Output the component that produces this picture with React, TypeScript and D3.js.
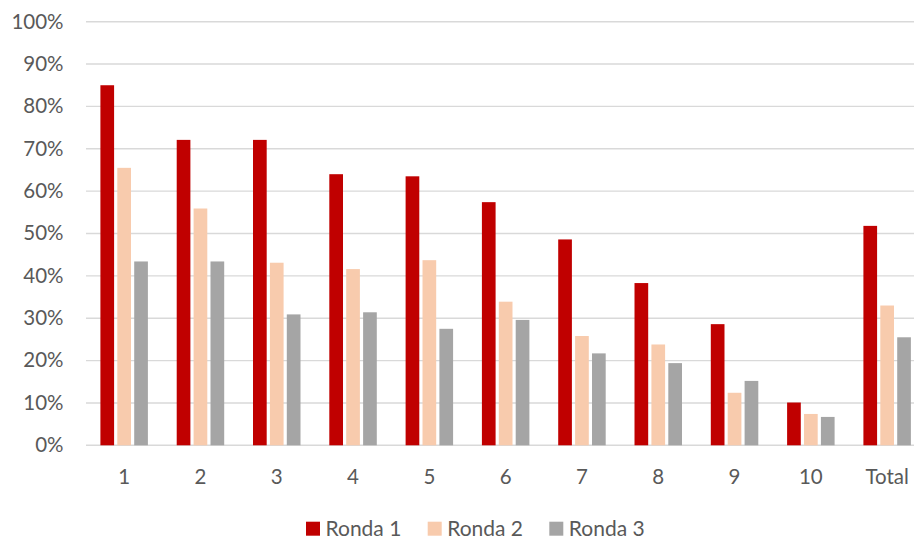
import React from "react";
import * as d3 from "d3";

const categories = ["1", "2", "3", "4", "5", "6", "7", "8", "9", "10", "Total"];
const seriesNames = ["Ronda 1", "Ronda 2", "Ronda 3"];
const ronda1 = [0.85, 0.721, 0.721, 0.64, 0.635, 0.574, 0.486, 0.383, 0.286, 0.101, 0.518];
const ronda2 = [0.655, 0.559, 0.431, 0.416, 0.437, 0.339, 0.258, 0.238, 0.124, 0.074, 0.33];
const ronda3 = [0.434, 0.434, 0.309, 0.314, 0.275, 0.296, 0.217, 0.194, 0.152, 0.067, 0.255];
const yTicks = [0, 0.1, 0.2, 0.3, 0.4, 0.5, 0.6, 0.7, 0.8, 0.9, 1.0];

const colors = ["#C00000", "#F8CBAD", "#A5A5A5"];
const W = 914;
const H = 540;
const FONT = "Lato, 'Open Sans', sans-serif";
const TEXT = "#595959";

export default function App() {
  const series = [ronda1, ronda2, ronda3];
  const x = d3.scaleBand<string>().domain(categories).range([86, 925.3]).padding(0);
  const y = d3.scaleLinear().domain([0, 1]).range([445.3, 21.7]);
  const clusterW = 50.7;
  const inner = d3
    .scaleBand<string>()
    .domain(seriesNames)
    .range([-clusterW / 2, clusterW / 2])
    .paddingInner(0.19)
    .paddingOuter(0.095);
  const fmt = d3.format(".0%");

  const legendItems = [
    { name: seriesNames[0], sq: 306, color: colors[0] },
    { name: seriesNames[1], sq: 427.7, color: colors[1] },
    { name: seriesNames[2], sq: 549.3, color: colors[2] },
  ];

  return (
    <svg
      width={W}
      height={H}
      style={{ position: "absolute", left: 0, top: 0, background: "#fff" }}
      fontFamily={FONT}
    >
      <rect x={0} y={0} width={W} height={H} fill="#fff" />
      {yTicks.map((t) => (
        <g key={t}>
          <line x1={86} x2={W} y1={y(t)} y2={y(t)} stroke="#D9D9D9" strokeWidth={1.4} />
          <text x={63.5} y={y(t) + 6.9} textAnchor="end" fontSize={20.5} fill={TEXT}>
            {fmt(t)}
          </text>
        </g>
      ))}
      {categories.map((c, ci) => {
        const cx = (x(c) ?? 0) + x.bandwidth() / 2;
        return (
          <g key={c}>
            {series.map((s, si) => (
              <rect
                key={si}
                x={cx + (inner(seriesNames[si]) ?? 0)}
                y={y(s[ci])}
                width={inner.bandwidth()}
                height={y(0) - y(s[ci])}
                fill={colors[si]}
              />
            ))}
            <text x={cx} y={484} textAnchor="middle" fontSize={20.5} fill={TEXT}>
              {c}
            </text>
          </g>
        );
      })}
      {legendItems.map((l) => (
        <g key={l.name}>
          <rect x={l.sq} y={521.7} width={14} height={14} fill={l.color} />
          <text x={l.sq + 19.5} y={535.5} fontSize={21} fill={TEXT}>
            {l.name}
          </text>
        </g>
      ))}
    </svg>
  );
}
